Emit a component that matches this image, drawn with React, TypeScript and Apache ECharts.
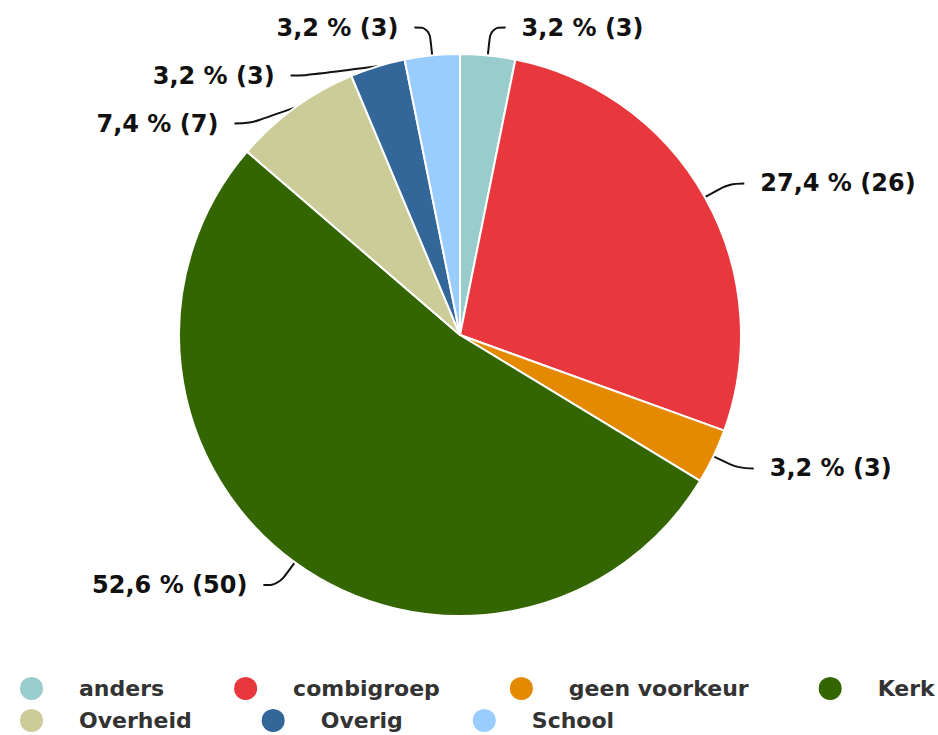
import React, { useEffect, useRef } from "react";
import * as echarts from "echarts";

const categories = ["anders", "combigroep", "geen voorkeur", "Kerk", "Overheid", "Overig", "School"];
const values = [3, 26, 3, 50, 7, 3, 3];
const colors = ["#99cccc", "#e8383d", "#e38a00", "#336600", "#cccc99", "#336699", "#99ccff"];
const legendRow1 = ["anders", "combigroep", "geen voorkeur", "Kerk"];
const legendRow2 = ["Overheid", "Overig", "School"];

export default function App() {
  const ref = useRef<HTMLDivElement>(null);
  useEffect(() => {
    document.body.style.margin = "0";
    const chart = echarts.init(ref.current!, null, { renderer: "svg" });
    const total = values.reduce((a, b) => a + b, 0);
    const legendBase = {
      left: 13,
      width: 930,
      orient: "horizontal",
      icon: "circle",
      itemWidth: 25,
      itemHeight: 25,
      itemGap: 68,
      textStyle: {
        fontFamily: "DejaVu Sans",
        fontWeight: "bold",
        fontSize: 22,
        color: "#333333",
        padding: [0, 0, 0, 30],
      },
    };
    chart.setOption({
      animation: false,
      backgroundColor: "#ffffff",
      color: colors,
      legend: [
        { ...legendBase, top: 670, data: legendRow1 },
        { ...legendBase, top: 702, data: legendRow2 },
      ],
      series: [
        {
          type: "pie",
          center: [460, 335],
          radius: 281,
          startAngle: 90,
          clockwise: true,
          itemStyle: { borderColor: "#ffffff", borderWidth: 2 },
          label: {
            show: true,
            position: "outside",
            fontFamily: "DejaVu Sans",
            fontWeight: "bold",
            fontSize: 24,
            lineHeight: 46,
            color: "#111111",
            distanceToLabelLine: 16,
            formatter: (p: any) =>
              `${((p.value / total) * 100).toFixed(1).replace(".", ",")} % (${p.value})`,
          },
          labelLine: {
            show: true,
            length: 28,
            length2: 15,
            smooth: 0.4,
            lineStyle: { color: "#111111", width: 2 },
          },
          emphasis: { disabled: true },
          data: categories.map((c, i) => ({ name: c, value: values[i] })),
        },
      ],
    });
    return () => chart.dispose();
  }, []);
  return <div ref={ref} style={{ width: 938, height: 735 }} />;
}
